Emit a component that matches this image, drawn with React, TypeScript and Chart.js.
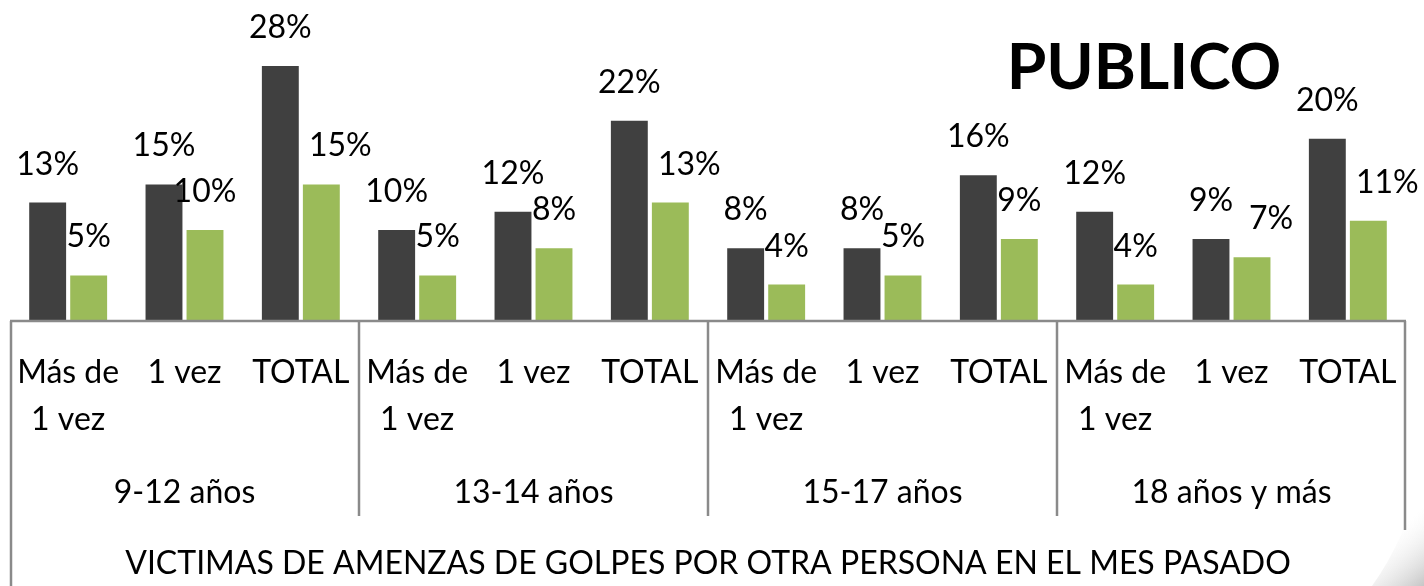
import React, { useEffect, useRef } from "react";
import { Chart, registerables } from "chart.js";

Chart.register(...registerables);

const categoryLines: string[][] = [
  ["Más de", "1 vez"], ["1 vez"], ["TOTAL"],
  ["Más de", "1 vez"], ["1 vez"], ["TOTAL"],
  ["Más de", "1 vez"], ["1 vez"], ["TOTAL"],
  ["Más de", "1 vez"], ["1 vez"], ["TOTAL"],
];
const groups = ["9-12 años", "13-14 años", "15-17 años", "18 años y más"];
const darkValues = [13, 15, 28, 10, 12, 22, 8, 8, 16, 12, 9, 20];
const greenValues = [5, 10, 15, 5, 8, 13, 4, 5, 9, 4, 7, 11];
const axisTitle = "VICTIMAS DE AMENZAS DE GOLPES POR OTRA PERSONA EN EL MES PASADO";
const badge = "PUBLICO";

// labels nudged right in the original (to avoid overlapping neighbouring bars)
const greenLabelNudged = [false, false, true, false, false, true, false, false, false, false, true, true];

const FONT = "Lato, 'Open Sans', sans-serif";
const LINE = "#8a8a8a";

const overlay = {
  id: "overlay",
  afterDraw(chart: any) {
    const ctx = chart.ctx as CanvasRenderingContext2D;
    const x = chart.scales.x;
    const area = chart.chartArea;
    ctx.save();

    // page curl shadow
    const g = ctx.createLinearGradient(1424, 586, 1385, 540);
    g.addColorStop(0, "rgba(150,150,150,0.55)");
    g.addColorStop(1, "rgba(230,230,230,0)");
    ctx.fillStyle = g;
    ctx.beginPath();
    ctx.moveTo(1424, 470);
    ctx.quadraticCurveTo(1405, 540, 1372, 586);
    ctx.lineTo(1424, 586);
    ctx.closePath();
    ctx.fill();

    // value labels
    ctx.fillStyle = "#000";
    ctx.font = `32px ${FONT}`;
    ctx.textAlign = "center";
    ctx.textBaseline = "alphabetic";
    chart.data.datasets.forEach((ds: any, di: number) => {
      const meta = chart.getDatasetMeta(di);
      meta.data.forEach((bar: any, i: number) => {
        const nudge = di === 1 && greenLabelNudged[i] ? 19 : 0;
        ctx.fillText(ds.data[i] + "%", bar.x + nudge, bar.y - 28);
      });
    });

    // axis lines
    const left = area.left;
    const right = area.right;
    const base = area.bottom;
    ctx.strokeStyle = LINE;
    ctx.lineWidth = 2.5;
    ctx.beginPath();
    ctx.moveTo(left, base);
    ctx.lineTo(right, base);
    ctx.moveTo(left + 1, base);
    ctx.lineTo(left + 1, 586);
    ctx.moveTo(right - 1, base);
    ctx.lineTo(right - 1, 530);
    for (let k = 1; k < groups.length; k++) {
      const sx = (x.getPixelForTick(3 * k - 1) + x.getPixelForTick(3 * k)) / 2;
      ctx.moveTo(sx, base);
      ctx.lineTo(sx, 516);
    }
    ctx.stroke();

    // category labels
    ctx.fillStyle = "#000";
    ctx.font = `32px ${FONT}`;
    categoryLines.forEach((lines, i) => {
      const cx = x.getPixelForTick(i);
      lines.forEach((t, li) => {
        ctx.fillText(t, cx, 383 + li * 47);
      });
    });

    // group labels
    groups.forEach((gname, k) => {
      const cx = (x.getPixelForTick(3 * k) + x.getPixelForTick(3 * k + 2)) / 2;
      ctx.fillText(gname, cx, 503);
    });

    // axis title
    ctx.fillText(axisTitle, (left + right) / 2, 574);

    // badge
    ctx.font = `bold 64px ${FONT}`;
    ctx.fillText(badge, 1144, 89);
    ctx.restore();
  },
};

export default function App() {
  const ref = useRef<HTMLCanvasElement | null>(null);
  useEffect(() => {
    document.body.style.margin = "0";
    const canvas = ref.current!;
    const chart = new Chart(canvas, {
      type: "bar",
      data: {
        labels: categoryLines.map((l) => l.join(" ")),
        datasets: [
          {
            data: darkValues,
            backgroundColor: "#404040",
            barPercentage: 0.9,
            categoryPercentage: 0.705,
          },
          {
            data: greenValues,
            backgroundColor: "#9bbb59",
            barPercentage: 0.9,
            categoryPercentage: 0.705,
          },
        ],
      },
      options: {
        animation: false,
        responsive: false,
        devicePixelRatio: 1,
        layout: { padding: { left: 10, right: 18, top: 0, bottom: 265 } },
        scales: {
          x: { display: false, offset: true },
          y: { display: false, min: 0, max: 35.25 },
        },
        plugins: { legend: { display: false }, tooltip: { enabled: false } },
      },
      plugins: [overlay],
    });
    return () => chart.destroy();
  }, []);
  return (
    <div style={{ position: "absolute", left: 0, top: 0, width: 1424, height: 586, background: "#fff" }}>
      <canvas ref={ref} width={1424} height={586} />
    </div>
  );
}
